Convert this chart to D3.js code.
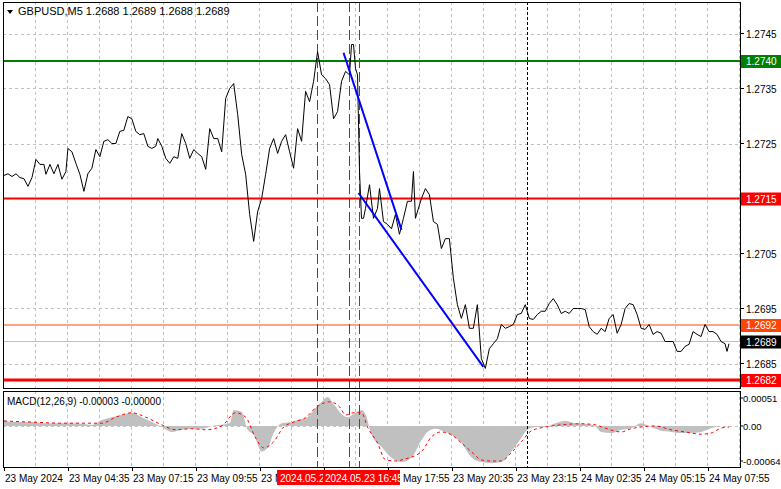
<!DOCTYPE html>
<html><head><meta charset="utf-8">
<script src="https://cdn.jsdelivr.net/npm/d3@7"></script>
<style>
body{margin:0;background:#fff;}
svg text{font-family:"Liberation Sans",Arial,sans-serif;font-size:10px;}
</style></head><body>
<svg id="c" width="781" height="489"></svg>
<script>
// ---- data ----
const priceBars = [0,2,4,6,8,10,12,14,16,18,20,21,23,25,27,29,31,32,34,36,38,40,42,44,46,48,50,52,54,56,58,60,62,64,66,68,70,72,74,76,77,79,81,83,85,87,89,91,93,95,97,99,101,103,105,107,109,111,113,115,117,119,121,123,125,127,129,131,133,135,137,139,141,143,145,147,149,151,153,155,157,159,161,163,165,167,169,171,173,174,175,176,177,178,179,180,181,183,185,187,188,190,192,194,196,198,200,202,204,205,206,209,211,213,215,217,219,221,223,225,227,229,231,233,235,237,239,241,243,245,247,249,251,253,255,257,259,261,263,265,267,269,271,273,275,277,279,281,283,285,287,289,291,293,295,297,299,301,303,305,307,309,311,313,315,317,319,321,323,325,327,329,331,333,335,337,339,341,343,345,347,349,351,353,355,357,359,361,362,363];
const priceVals = [1.27192,1.27195,1.27190,1.27195,1.27188,1.27186,1.27172,1.27188,1.27221,1.27212,1.27212,1.27194,1.27212,1.27195,1.27212,1.27185,1.27199,1.27241,1.27235,1.27214,1.27194,1.27163,1.27195,1.27205,1.27239,1.27226,1.27254,1.27257,1.27250,1.27250,1.27272,1.27274,1.27299,1.27295,1.27272,1.27266,1.27268,1.27245,1.27241,1.27245,1.27259,1.27245,1.27223,1.27214,1.27226,1.27223,1.27268,1.27250,1.27223,1.27239,1.27232,1.27226,1.27203,1.27277,1.27259,1.27259,1.27235,1.27332,1.27350,1.27359,1.27303,1.27230,1.27194,1.27121,1.27072,1.27126,1.27150,1.27194,1.27241,1.27259,1.27232,1.27254,1.27266,1.27235,1.27205,1.27277,1.27254,1.27345,1.27326,1.27363,1.27417,1.27375,1.27368,1.27357,1.27295,1.27308,1.27363,1.27381,1.27375,1.27430,1.27430,1.27386,1.27375,1.27199,1.27114,1.27114,1.27132,1.27175,1.27114,1.27132,1.27168,1.27108,1.27103,1.27095,1.27121,1.27085,1.27114,1.27145,1.27145,1.27199,1.27114,1.27150,1.27168,1.27157,1.27108,1.27103,1.27059,1.27077,1.27077,1.27005,1.26957,1.26932,1.26957,1.26914,1.26914,1.26957,1.26859,1.26841,1.26877,1.26886,1.26895,1.26921,1.26914,1.26917,1.26921,1.26939,1.26941,1.26957,1.26932,1.26930,1.26939,1.26945,1.26945,1.26959,1.26968,1.26957,1.26941,1.26945,1.26941,1.26950,1.26950,1.26950,1.26948,1.26917,1.26908,1.26903,1.26914,1.26908,1.26932,1.26939,1.26905,1.26921,1.26950,1.26959,1.26957,1.26939,1.26914,1.26912,1.26921,1.26903,1.26908,1.26905,1.26890,1.26890,1.26890,1.26872,1.26872,1.26881,1.26885,1.26908,1.26903,1.26899,1.26921,1.26908,1.26908,1.26903,1.26890,1.26886,1.26872,1.26886];
const histBars = [0,4,9,14,19,24,29,34,39,44,49,54,59,64,69,74,79,84,89,94,99,104,113,115,119,122,125,129,132,135,139,144,147,152,155,159,162,165,169,172,175,179,181,184,189,194,199,204,209,212,216,221,224,229,234,239,244,249,254,259,262,266,271,276,281,286,291,296,299,304,309,314,319,324,329,334,339,344,349,354,359,362];
const histVals = [0.00011,0.00007,0.00007,0.00007,0.00005,0.00005,0.00005,0.00005,0.00004,0.00002,0.00011,0.00016,0.00020,0.00024,0.00016,0.00007,-0.00002,-0.00011,-0.00007,-0.00005,-0.00005,0,0.00005,0.00029,0.00026,-0.00007,-0.00016,-0.00047,-0.00040,-0.00013,0.00005,0.00007,0.00011,0.00016,0.00029,0.00044,0.00053,0.00040,0.00022,0.00016,0.00022,0.00029,0.00022,-0.00016,-0.00038,-0.00058,-0.00066,-0.00058,-0.00026,-0.00011,-0.00005,-0.00011,-0.00016,-0.00031,-0.00057,-0.00066,-0.00068,-0.00066,-0.00047,-0.00022,-0.00007,-0.00002,-0.00002,0.00005,0.00009,0.00005,0.00004,0,-0.00011,-0.00013,-0.00007,-0.00004,0.00005,-0.00002,-0.00009,-0.00011,-0.00013,-0.00013,-0.00011,-0.00004,0,0,-0.00004];
const sigBars = [0,14,29,44,49,56,64,71,79,86,94,101,109,116,121,126,130,135,140,145,151,156,163,168,171,175,179,182,187,191,196,201,209,214,219,224,229,234,239,244,249,254,259,264,271,279,289,296,301,309,314,319,326,334,341,349,354,359,363];
const sigVals = [0.00009,0.00007,0.00005,0.00005,0.00005,0.00016,0.00024,0.00016,0.00002,-0.00007,-0.00005,-0.00007,0,0.00024,0.00016,-0.00022,-0.00040,-0.00029,-0.00002,0.00007,0.00015,0.00033,0.00044,0.00035,0.00020,0.00024,0.00024,-0.00002,-0.00031,-0.00062,-0.00064,-0.00060,-0.00047,-0.00020,-0.00011,-0.00016,-0.00031,-0.00047,-0.00062,-0.00064,-0.00064,-0.00049,-0.00029,-0.00009,-0.00002,0.00002,0.00004,0.00002,-0.00004,-0.00011,-0.00005,-0.00002,0,-0.00007,-0.00011,-0.00015,-0.00013,-0.00004,-0.00002];
const priceTicks = [1.2745,1.2735,1.2725,1.2705,1.2695,1.2685];
const macdTicks = [0.00051,0,-0.00064];
const macdTickLabels = ["0.00051","0.00","-0.00064"];
const timeLabels = ["23 May 2024","23 May 04:35","23 May 07:15","23 May 09:55","23 May 12:35","23 May 15:15","23 May 17:55","23 May 20:35","23 May 23:15","24 May 02:35","24 May 05:15","24 May 07:55"];
const levelPrices = [1.2740,1.2715,1.2692,1.2689,1.2682];
const levelColors = ["#008000","#ff0000","#ff4500","#c0c0c0","#ff0000"];
const levelWidths = [2,2,1,1,3];
const levelBoxColors = ["#008000","#ff0000","#ff4500","#000000","#ff0000"];
const eventBars = [156.5,172.5,177.5];
const eventLabels = ["2024.05.23 15:10","2024.05.23 16:45"];
const dottedBar = 262;
const trend1 = [[170,1.27415],[199,1.27093]];
const trend2 = [[177.5,1.27160],[240,1.26844]];

// ---- layout ----
const svg = d3.select("#c");
const L=3, R=740, T=2, MB=388, MT=391, MBot=467;
const x = d3.scaleLinear().domain([0,368]).range([L+1,R-1]);
const y = d3.scaleLinear().domain([1.2685,1.2745]).range([363.5,33.5]);
const ym = d3.scaleLinear().domain([-0.00064,0.00051]).range([461,398]);

const gridG = svg.append("g").attr("stroke","#c0c0c0").attr("stroke-dasharray","3,3");
for(let k=0;k<24;k++){const gx=L+32*(k+1)+.5; if(gx>=R) break;
  gridG.append("line").attr("x1",gx).attr("x2",gx).attr("y1",T).attr("y2",MB);
  gridG.append("line").attr("x1",gx).attr("x2",gx).attr("y1",MT).attr("y2",MBot);}
priceTicks.forEach(p=>gridG.append("line").attr("x1",L).attr("x2",R).attr("y1",Math.round(y(p))+.5).attr("y2",Math.round(y(p))+.5));
gridG.append("line").attr("x1",L).attr("x2",R).attr("y1",ym(0)+.5).attr("y2",ym(0)+.5);

svg.append("path").datum(histBars.map((b,i)=>[b,histVals[i]]))
  .attr("fill","#c0c0c0")
  .attr("d",d3.area().curve(d3.curveMonotoneX).x(d=>x(d[0])).y0(ym(0)).y1(d=>ym(d[1])));
svg.append("path").datum(sigBars.map((b,i)=>[b,sigVals[i]]))
  .attr("fill","none").attr("stroke","#ff0000").attr("stroke-width",1).attr("stroke-dasharray","3,3")
  .attr("d",d3.line().curve(d3.curveMonotoneX).x(d=>x(d[0])).y(d=>ym(d[1])));

levelPrices.forEach((p,i)=>{
  svg.append("line").attr("x1",L).attr("x2",R).attr("y1",y(p)).attr("y2",y(p))
   .attr("stroke",levelColors[i]).attr("stroke-width",levelWidths[i]);
});

eventBars.forEach(b=>{
  [[T,MB],[MT,MBot]].forEach(r=>svg.append("line").attr("x1",Math.round(x(b))+.5).attr("x2",Math.round(x(b))+.5)
    .attr("y1",r[0]).attr("y2",r[1]).attr("stroke","#ff0000").attr("stroke-dasharray","10,4"));
});
[[T,MB],[MT,MBot]].forEach(r=>svg.append("line").attr("x1",Math.round(x(dottedBar))+.5).attr("x2",Math.round(x(dottedBar))+.5)
  .attr("y1",r[0]).attr("y2",r[1]).attr("stroke","#000").attr("stroke-dasharray","3,2"));

svg.append("path").datum(priceBars.map((b,i)=>[b,priceVals[i]]))
  .attr("fill","none").attr("stroke","#000").attr("stroke-width",1)
  .attr("d",d3.line().x(d=>x(d[0])).y(d=>y(d[1])));

[trend1,trend2].forEach(t=>svg.append("line").attr("x1",x(t[0][0])).attr("y1",y(t[0][1]))
  .attr("x2",x(t[1][0])).attr("y2",y(t[1][1])).attr("stroke","#0000ff").attr("stroke-width",2));

svg.append("rect").attr("x",L+.5).attr("y",T+.5).attr("width",R-L).attr("height",MB-T).attr("fill","none").attr("stroke","#000");
svg.append("rect").attr("x",L+.5).attr("y",MT+.5).attr("width",R-L).attr("height",MBot-MT).attr("fill","none").attr("stroke","#000");

priceTicks.forEach(p=>{
  const yy=y(p);
  svg.append("line").attr("x1",R).attr("x2",R+4).attr("y1",yy).attr("y2",yy).attr("stroke","#000");
  svg.append("text").attr("x",R+6).attr("y",yy+4).text(p.toFixed(4));
});
levelPrices.forEach((p,i)=>{
  const yy=y(p);
  svg.append("rect").attr("x",R+1).attr("y",yy-6).attr("width",40).attr("height",13).attr("fill",levelBoxColors[i]);
  svg.append("text").attr("x",R+6).attr("y",yy+4).attr("fill","#fff").text(p.toFixed(4));
});
macdTicks.forEach((v,i)=>{
  const yy=ym(v);
  svg.append("line").attr("x1",R).attr("x2",R+3).attr("y1",yy).attr("y2",yy).attr("stroke","#000");
  svg.append("text").attr("x",R+3).attr("y",yy+4).style("font-size","9.5px").text(macdTickLabels[i]);
});

// clip regions so labels hidden behind the red boxes don't overlap them
const defs = svg.append("defs");
defs.append("clipPath").attr("id","clA").append("rect").attr("x",0).attr("y",468).attr("width",277).attr("height",21);
defs.append("clipPath").attr("id","clB").append("rect").attr("x",400).attr("y",468).attr("width",381).attr("height",21);
defs.append("clipPath").attr("id","cl1").append("rect").attr("x",277).attr("y",470).attr("width",46).attr("height",16);
timeLabels.forEach((t,i)=>{
  const tx=L+1+64*i;
  svg.append("line").attr("x1",tx+.5).attr("x2",tx+.5).attr("y1",MBot).attr("y2",MBot+4).attr("stroke","#000");
  const tt = svg.append("text").attr("x",tx+1).attr("y",482).text(t);
  if(tx>=260 && tx<388) tt.attr("clip-path","url(#clA)");
  if(tx>=388 && tx<400) tt.attr("clip-path","url(#clB)");
});
const ev1x = 277, ev2x = 323;
svg.append("rect").attr("x",ev1x).attr("y",470).attr("width",46).attr("height",15).attr("fill","#ff0000");
svg.append("text").attr("x",ev1x+3).attr("y",482).attr("fill","#fff").attr("clip-path","url(#cl1)").text(eventLabels[0]);
svg.append("rect").attr("x",ev2x).attr("y",470).attr("width",77).attr("height",15).attr("fill","#ff0000");
svg.append("text").attr("x",ev2x+2).attr("y",482).attr("fill","#fff").text(eventLabels[1]);

svg.append("path").attr("d","M7,10 L13,10 L10,14 Z").attr("fill","#000");
svg.append("text").attr("x",18).attr("y",15).style("font-size","11px").text("GBPUSD,M5  1.2688 1.2689 1.2688 1.2689");
svg.append("text").attr("x",7).attr("y",405).text("MACD(12,26,9) -0.00003 -0.00000");
</script></body></html>
